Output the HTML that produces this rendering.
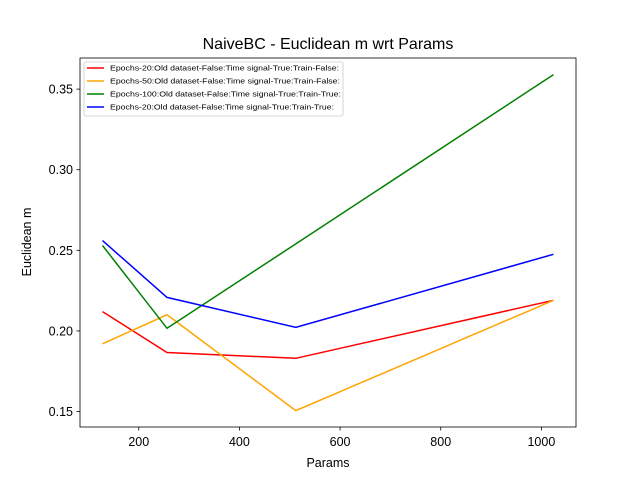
<!DOCTYPE html>
<html><head><meta charset="utf-8"><style>body{margin:0;background:#fff}svg{display:block;font-family:"Liberation Sans","DejaVu Sans",sans-serif}</style></head>
<body>
<svg id="chart" width="640" height="480" xmlns="http://www.w3.org/2000/svg"></svg>
<script>
const params = [128, 256, 512, 1024];
const seriesNames = ["Epochs-20:Old dataset-False:Time signal-True:Train-False:","Epochs-50:Old dataset-False:Time signal-True:Train-False:","Epochs-100:Old dataset-False:Time signal-True:Train-True:","Epochs-20:Old dataset-False:Time signal-True:Train-True:"];
const redValues = [0.212, 0.1866, 0.183, 0.219];
const orangeValues = [0.192, 0.210, 0.1506, 0.219];
const greenValues = [0.253, 0.2016, 0.254, 0.359];
const blueValues = [0.256, 0.2208, 0.2022, 0.2475];
const seriesColors = ["#ff0000","#ffa500","#008000","#0000ff"];
const xTicks = [200, 400, 600, 800, 1000];
const yTicks = [0.15, 0.20, 0.25, 0.30, 0.35];

const svg = document.getElementById('chart');
const NS = "http://www.w3.org/2000/svg";
const L=80,R=576,T=58,B=427;
const xMin=83.2,xMax=1068.8,yMin=0.1404,yMax=0.3693;
const xs=v=>L+(v-xMin)/(xMax-xMin)*(R-L);
const ys=v=>B-(v-yMin)/(yMax-yMin)*(B-T);
function mk(tag,attrs,parent){const e=document.createElementNS(NS,tag);for(const k in attrs)e.setAttribute(k,attrs[k]);(parent||svg).appendChild(e);return e;}

const title=mk('text',{x:328,y:49,'text-anchor':'middle','font-size':16,fill:'#000'});


title.textContent='NaiveBC - Euclidean m wrt Params';

const all=[redValues,orangeValues,greenValues,blueValues];
all.forEach((vals,i)=>{
  const pts=vals.map((v,j)=>xs(params[j]).toFixed(1)+','+ys(v).toFixed(1)).join(' ');
  const pl=mk('polyline',{points:pts,fill:'none',stroke:seriesColors[i],'stroke-width':1.5});
  
  
});

const frame=mk('rect',{x:L,y:T,width:R-L,height:B-T,fill:'none',stroke:'#000','stroke-width':0.8});



xTicks.forEach(t=>{
  const x=xs(t);
  mk('line',{x1:x,y1:B,x2:x,y2:B+3.5,stroke:'#000','stroke-width':0.8});
  const tx=mk('text',{x:x,y:B+19,'text-anchor':'middle','font-size':12.5,fill:'#000'});
  
  
  tx.textContent=t;
});
yTicks.forEach(t=>{
  const y=ys(t);
  mk('line',{x1:L-3.5,y1:y,x2:L,y2:y,stroke:'#000','stroke-width':0.8});
  const tx=mk('text',{x:L-7,y:y+4.5,'text-anchor':'end','font-size':12.5,fill:'#000'});
  
  
  tx.textContent=t.toFixed(2);
});

const xl=mk('text',{x:328,y:467,'text-anchor':'middle','font-size':12.5,fill:'#000'});


xl.textContent='Params';
const yl=mk('text',{x:31,y:242,'text-anchor':'middle','font-size':12.5,fill:'#000',transform:'rotate(-90 31 242)'});


yl.textContent='Euclidean m';

const lg=mk('g',{});


mk('rect',{x:84,y:62,width:259,height:54,rx:2,fill:'#fff','fill-opacity':0.8,stroke:'#ccc','stroke-width':0.8},lg);
seriesNames.forEach((n,i)=>{
  const y=68+i*13;
  const e=mk('g',{},lg);
  
  
  mk('line',{x1:87,y1:y,x2:104,y2:y,stroke:seriesColors[i],'stroke-width':1.5},e);
  const t=mk('text',{x:110,y:y+2.5,'font-size':7.2,fill:'#000',textLength:[229,230,231,224][i],lengthAdjust:'spacingAndGlyphs'},e);
  t.textContent=n;
});
</script>
</body></html>
